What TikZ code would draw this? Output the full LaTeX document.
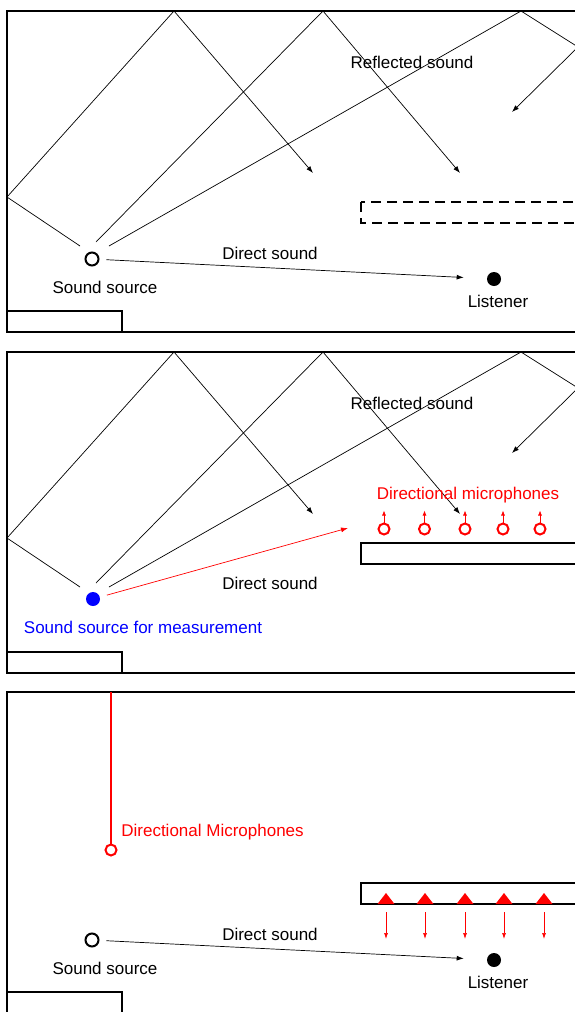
\documentclass[tikz,border=0pt]{standalone}
\usepackage{fontspec}
\setmainfont{Liberation Sans}
\usetikzlibrary{arrows.meta}

\begin{document}
\begin{tikzpicture}[x=1pt,y=-1pt,line width=0.7pt,>={Latex[length=7pt,width=5pt]},
  wall/.style={line width=2pt},
  txt/.style={font=\fontsize{17}{20}\selectfont,inner sep=0pt},
  srcopen/.style={circle,draw,line width=2pt,minimum size=13pt,inner sep=0pt},
  lisdot/.style={circle,fill,minimum size=14pt,inner sep=0pt},
  mic/.style={circle,draw=red,line width=2pt,minimum size=11pt,inner sep=0pt}]
  \useasboundingbox (0,0) rectangle (575,1012);
  \clip (0,0) rectangle (575,1012);

  % rooms
  \foreach \dy in {0,341,681}{
    \begin{scope}[yshift=-\dy pt]
      \draw[wall] (7,11) rectangle (590,332);
      \draw[wall] (7,311) rectangle (122,332);
    \end{scope}
  }

  % reflected rays (top two rooms)
  \foreach \dy in {0,341}{
    \begin{scope}[yshift=-\dy pt]
      \draw[->] (80,246) -- (7,197) -- (174,11) -- (313,173);
      \draw[->] (96,242) -- (323,11) -- (460,173);
      \draw[->] (109,246) -- (521,11) -- (578,47) -- (512,112);
      \node[txt] (refl) at (412,62) {Reflected sound};
    \end{scope}
  }

  % source and listener (rooms 1 and 3)
  \foreach \dy/\n in {0/1,681/3}{
    \begin{scope}[yshift=-\dy pt]
      \node[srcopen] (src\n) at (92,259) {};
      \node[lisdot] (lis\n) at (494,279) {};
      \node[txt] (srclab\n) at (105,287) {Sound source};
      \node[txt] (lislab\n) at (498,301) {Listener};
      \node[txt] (dirlab\n) at (270,253) {Direct sound};
      \draw[->,shorten <=7pt,shorten >=23pt] (src\n) -- (lis\n);
    \end{scope}
  }

  % room 1: dashed reflector
  \draw[wall,dash pattern=on 10pt off 6pt] (361,202) rectangle (590,223);

  % room 2: measurement
  \begin{scope}[yshift=-341pt]
    \draw[wall] (361,202) rectangle (590,223);
    \node[circle,fill=blue,minimum size=14pt,inner sep=0pt] (src2) at (93,258) {};
    \coordinate (aim2) at (348,187);
    \draw[->,red,shorten <=7pt] (src2) -- (aim2);
    \node[txt] (dirlab2) at (270,242) {Direct sound};
    \node[txt,blue] (srclab2) at (143,286) {Sound source for measurement};
    \node[txt,red] (miclab2) at (468,154) {Directional microphones};
    \foreach \mx [count=\i] in {384,424.5,465,503,540}{
      \node[mic] (m\i) at (\mx,188) {};
      \draw[->,red,>={Latex[length=5pt,width=4pt]}] (m\i.north) -- ++(0,-12);
    }
  \end{scope}

  % room 3: reproduction
  \begin{scope}[yshift=-681pt]
    \draw[wall] (361,202) rectangle (590,223);
    \node[mic] (mic3) at (111,169) {};
    \coordinate (top3) at (111,11);
    \draw[red,line width=2pt] (top3) -- (mic3.north);
    \node[txt,red,anchor=west] (miclab3) at (121,151) {Directional Microphones};
    \foreach \mx in {386,425,465,504,544}{
      \fill[red] (\mx-8.5,223) -- (\mx+8.5,223) -- (\mx,212) -- cycle;
      \draw[->,red,>={Latex[length=6pt,width=4pt]}] (\mx,231) -- (\mx,258);
    }
  \end{scope}
\end{tikzpicture}
\end{document}
